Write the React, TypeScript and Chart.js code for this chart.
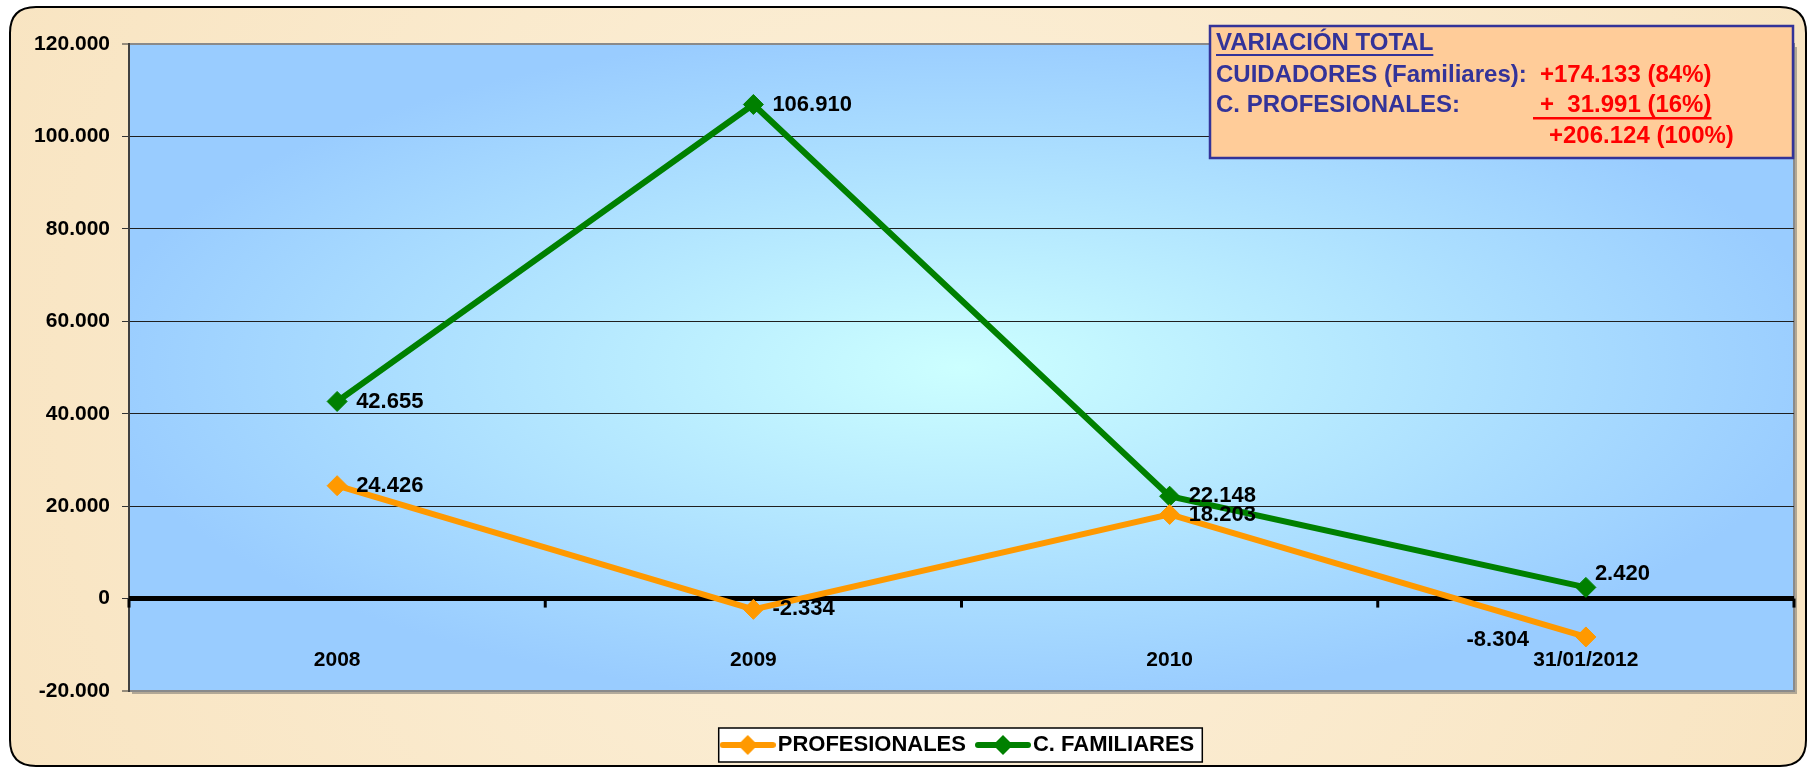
import React, { useEffect, useRef } from "react";
import { Chart, registerables } from "chart.js";

Chart.register(...registerables);

const FONT = "'Liberation Sans', Arial, Helvetica, sans-serif";

// ---- data ----
const categories: string[] = ["2008", "2009", "2010", "31/01/2012"];
const profesionales: number[] = [24426, -2334, 18203, -8304];
const familiares: number[] = [42655, 106910, 22148, 2420];
const seriesNames: string[] = ["PROFESIONALES", "C. FAMILIARES"];
const yMin = -20000;
const yMax = 120000;
const yStep = 20000;

const infoTitle = "VARIACIÓN TOTAL";
const infoLabels: string[] = ["CUIDADORES (Familiares):", "C. PROFESIONALES:", ""];
const infoValues: string[] = ["+174.133 (84%)", "+  31.991 (16%)", "+206.124 (100%)"];

// label placement per point (not data)
const labelPlacement: string[][] = [
  ["right", "right", "right", "left"],
  ["right", "right", "right", "upright"],
];

const seriesColors = ["#FF9900", "#008000"];

const fmt = (v: number): string => {
  const s = Math.abs(Math.round(v))
    .toString()
    .replace(/\B(?=(\d{3})+(?!\d))/g, ".");
  return (v < 0 ? "-" : "") + s;
};

function makeLegendIcon(color: string): HTMLCanvasElement {
  const c = document.createElement("canvas");
  c.width = 56;
  c.height = 22;
  const g = c.getContext("2d")!;
  g.strokeStyle = color;
  g.lineWidth = 6;
  g.lineCap = "round";
  g.beginPath();
  g.moveTo(3, 11);
  g.lineTo(53, 11);
  g.stroke();
  g.fillStyle = color;
  g.beginPath();
  g.moveTo(28, 1);
  g.lineTo(38, 11);
  g.lineTo(28, 21);
  g.lineTo(18, 11);
  g.closePath();
  g.fill();
  return c;
}

function roundRect(ctx: CanvasRenderingContext2D, x: number, y: number, w: number, h: number, r: number) {
  ctx.beginPath();
  ctx.moveTo(x + r, y);
  ctx.lineTo(x + w - r, y);
  ctx.quadraticCurveTo(x + w, y, x + w, y + r);
  ctx.lineTo(x + w, y + h - r);
  ctx.quadraticCurveTo(x + w, y + h, x + w - r, y + h);
  ctx.lineTo(x + r, y + h);
  ctx.quadraticCurveTo(x, y + h, x, y + h - r);
  ctx.lineTo(x, y + r);
  ctx.quadraticCurveTo(x, y, x + r, y);
  ctx.closePath();
}

const backgroundPlugin = {
  id: "bgPlugin",
  beforeDraw(chart: any) {
    const ctx: CanvasRenderingContext2D = chart.ctx;
    const { width, height, chartArea: ca } = chart;
    ctx.save();
    ctx.fillStyle = "#ffffff";
    ctx.fillRect(0, 0, width, height);
    // outer parchment panel
    const pg = ctx.createRadialGradient(width / 2, height / 2, 50, width / 2, height / 2, width * 0.6);
    pg.addColorStop(0, "#FCF0D9");
    pg.addColorStop(1, "#F8E3BF");
    roundRect(ctx, 10, 7, 1796, 759, 26);
    ctx.fillStyle = pg;
    ctx.fill();
    ctx.lineWidth = 2;
    ctx.strokeStyle = "#000";
    ctx.stroke();

    // plot area gradient (from center)
    const cx = (ca.left + ca.right) / 2;
    const cy = (ca.top + ca.bottom) / 2;
    const hw = (ca.right - ca.left) / 2;
    const hh = (ca.bottom - ca.top) / 2;
    ctx.fillStyle = "rgba(90,90,90,0.45)";
    ctx.fillRect(ca.left + 3, ca.top + 3, ca.right - ca.left, ca.bottom - ca.top);
    ctx.save();
    ctx.beginPath();
    ctx.rect(ca.left, ca.top, ca.right - ca.left, ca.bottom - ca.top);
    ctx.clip();
    ctx.translate(cx, cy);
    ctx.scale(hw, hh);
    const rg = ctx.createRadialGradient(0, 0, 0, 0, 0, 1.05);
    rg.addColorStop(0, "#CCFFFF");
    rg.addColorStop(1, "#99CCFF");
    ctx.fillStyle = rg;
    ctx.fillRect(-1.2, -1.2, 2.4, 2.4);
    ctx.restore();
    ctx.strokeStyle = "#8a8a8a";
    ctx.lineWidth = 2;
    ctx.strokeRect(ca.left, ca.top, ca.right - ca.left, ca.bottom - ca.top);

    // legend frame
    const lg = chart.legend;
    if (lg && lg.legendHitBoxes && lg.legendHitBoxes.length) {
      const hb = lg.legendHitBoxes;
      const first = hb[0];
      const last = hb[hb.length - 1];
      const midY = first.top + first.height / 2;
      const l = first.left - 10;
      const r = last.left + last.width + 8;
      ctx.fillStyle = "#ffffff";
      ctx.fillRect(l, midY - 17, r - l, 34);
      ctx.strokeStyle = "#000";
      ctx.lineWidth = 1.5;
      ctx.strokeRect(l, midY - 17, r - l, 34);
    }
    ctx.restore();
  },
  beforeDatasetsDraw(chart: any) {
    const ctx: CanvasRenderingContext2D = chart.ctx;
    const xs = chart.scales.x;
    const ys = chart.scales.y;
    const ca = chart.chartArea;
    const y0 = ys.getPixelForValue(0);
    ctx.save();
    // heavy zero axis with category boundary ticks
    ctx.strokeStyle = "#000";
    ctx.lineWidth = 5;
    ctx.beginPath();
    ctx.moveTo(ca.left, y0);
    ctx.lineTo(ca.right, y0);
    ctx.stroke();
    ctx.lineWidth = 3;
    const labels: string[] = chart.data.labels;
    for (let i = 0; i <= labels.length; i++) {
      const x = xs.getPixelForValue(i - 0.5);
      ctx.beginPath();
      ctx.moveTo(x, y0);
      ctx.lineTo(x, y0 + 9);
      ctx.stroke();
    }
    // category labels (low position, inside plot)
    ctx.fillStyle = "#000";
    ctx.font = `bold 21px ${FONT}`;
    ctx.textAlign = "center";
    ctx.textBaseline = "middle";
    labels.forEach((lab, i) => {
      ctx.fillText(lab, xs.getPixelForValue(i), ca.bottom - 31);
    });
    ctx.restore();
  },
  afterDatasetsDraw(chart: any) {
    const ctx: CanvasRenderingContext2D = chart.ctx;
    ctx.save();
    ctx.font = `bold 22px ${FONT}`;
    ctx.fillStyle = "#000";
    ctx.textBaseline = "middle";
    chart.data.datasets.forEach((ds: any, di: number) => {
      const meta = chart.getDatasetMeta(di);
      meta.data.forEach((pt: any, i: number) => {
        const p = labelPlacement[di][i];
        let x = pt.x;
        let y = pt.y;
        let align: CanvasTextAlign = "left";
        if (p === "right") {
          x += 19;
        } else if (p === "left") {
          x -= 57;
          y += 3;
          align = "right";
        } else if (p === "upright") {
          x += 9;
          y -= 13;
        }
        ctx.textAlign = align;
        ctx.fillText(fmt(ds.data[i]), x, y);
      });
    });
    ctx.restore();
  },
  afterDraw(chart: any) {
    const ctx: CanvasRenderingContext2D = chart.ctx;
    ctx.save();
    const bx = 1210;
    const by = 26;
    const bw = 583;
    const bh = 132;
    ctx.fillStyle = "#FFCC99";
    ctx.fillRect(bx, by, bw, bh);
    ctx.strokeStyle = "#333399";
    ctx.lineWidth = 2.5;
    ctx.strokeRect(bx, by, bw, bh);

    ctx.font = `bold 24px ${FONT}`;
    ctx.textBaseline = "middle";
    ctx.textAlign = "left";
    const tx = 1216;
    ctx.fillStyle = "#333399";
    ctx.fillText(infoTitle, tx, 43);
    const tw = ctx.measureText(infoTitle).width;
    ctx.fillRect(tx, 54, tw, 2);

    const rowsY = [75, 105, 136];
    const valX = [1540, 1540, 1549];
    for (let i = 0; i < infoValues.length; i++) {
      ctx.fillStyle = "#333399";
      if (infoLabels[i]) ctx.fillText(infoLabels[i], tx, rowsY[i]);
      ctx.fillStyle = "#FF0000";
      ctx.fillText(infoValues[i], valX[i], rowsY[i]);
    }
    const w2 = ctx.measureText(infoValues[1]).width;
    ctx.fillRect(1533, 117, w2 + 7, 2.5);
    ctx.restore();
  },
};

export default function App() {
  const ref = useRef<HTMLCanvasElement>(null);

  useEffect(() => {
    if (!ref.current) return;
    Chart.defaults.font.family = FONT;
    const icons = seriesColors.map((c) => makeLegendIcon(c));

    const mkDataset = (label: string, data: number[], color: string) => ({
      label,
      data,
      borderColor: color,
      backgroundColor: color,
      borderWidth: 6,
      pointStyle: "rectRot",
      pointRadius: 10,
      pointBorderWidth: 1,
      pointBackgroundColor: color,
      pointBorderColor: color,
      tension: 0,
      fill: false,
      clip: false as any,
    });

    const chart = new Chart(ref.current, {
      type: "line",
      data: {
        labels: categories,
        datasets: [
          mkDataset(seriesNames[0], profesionales, seriesColors[0]),
          mkDataset(seriesNames[1], familiares, seriesColors[1]),
        ] as any,
      },
      options: {
        responsive: false,
        maintainAspectRatio: false,
        animation: false,
        devicePixelRatio: 1,
        layout: { padding: { left: 0, right: 13, top: 44, bottom: 2 } },
        plugins: {
          tooltip: { enabled: false },
          title: { display: false },
          legend: {
            display: true,
            position: "bottom",
            fullSize: false,
            labels: {
              usePointStyle: true,
              pointStyleWidth: 38,
              boxHeight: 22,
              padding: 18,
              color: "#000",
              font: { size: 22, weight: "bold", family: FONT },
              generateLabels: (ch: any) =>
                ch.data.datasets.map((ds: any, i: number) => ({
                  text: ds.label,
                  pointStyle: icons[i],
                  fillStyle: ds.borderColor,
                  strokeStyle: ds.borderColor,
                  lineWidth: 0,
                  hidden: false,
                  datasetIndex: i,
                  fontColor: "#000",
                })),
            },
          },
        },
        scales: {
          x: {
            type: "category",
            offset: true,
            grid: { display: false, drawTicks: false },
            border: { display: false },
            ticks: { display: false },
            afterFit: (s: any) => {
              s.height = 25;
            },
          },
          y: {
            min: yMin,
            max: yMax,
            border: { display: true, color: "#404040", width: 2 },
            grid: {
              color: (c: any) => {
                const v = c.tick ? c.tick.value : null;
                if (v === 0) return "#000";
                if (v === yMin || v === yMax) return "#8a8a8a";
                return "#1f1f1f";
              },
              lineWidth: (c: any) => {
                const v = c.tick ? c.tick.value : null;
                if (v === 0) return 5;
                if (v === yMin || v === yMax) return 2;
                return 1;
              },
              tickColor: "#333",
              tickWidth: 1,
              tickLength: 7,
              drawTicks: true,
            },
            ticks: {
              stepSize: yStep,
              padding: 12,
              color: "#000",
              font: { size: 21, weight: "bold", family: FONT },
              callback: (v: any) => fmt(Number(v)),
            },
            afterFit: (s: any) => {
              s.width = 129;
            },
          },
        },
      },
      plugins: [backgroundPlugin],
    });
    return () => chart.destroy();
  }, []);

  return (
    <div style={{ position: "fixed", left: 0, top: 0, width: 1807, height: 768, overflow: "hidden" }}>
      <canvas ref={ref} width={1807} height={768} style={{ display: "block", width: 1807, height: 768 }} />
    </div>
  );
}
